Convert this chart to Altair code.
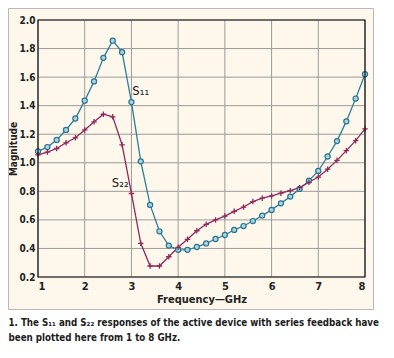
import altair as alt
import pandas as pd

# ---- data ----
freq = [1.0, 1.2, 1.4, 1.6, 1.8, 2.0, 2.2, 2.4, 2.6, 2.8,
        3.0, 3.2, 3.4, 3.6, 3.8, 4.0, 4.2, 4.4, 4.6, 4.8,
        5.0, 5.2, 5.4, 5.6, 5.8, 6.0, 6.2, 6.4, 6.6, 6.8,
        7.0, 7.2, 7.4, 7.6, 7.8, 8.0]
s11 = [1.08, 1.11, 1.16, 1.23, 1.31, 1.435, 1.57, 1.735, 1.855, 1.775,
       1.425, 1.01, 0.705, 0.52, 0.42, 0.39, 0.39, 0.41, 0.435, 0.466,
       0.494, 0.53, 0.557, 0.592, 0.63, 0.67, 0.716, 0.763, 0.817, 0.875,
       0.943, 1.044, 1.152, 1.29, 1.45, 1.62]
s22 = [1.056, 1.075, 1.10, 1.14, 1.175, 1.23, 1.287, 1.34, 1.322, 1.126,
       0.785, 0.436, 0.277, 0.277, 0.342, 0.408, 0.464, 0.524, 0.569, 0.60,
       0.627, 0.66, 0.69, 0.728, 0.752, 0.768, 0.787, 0.805, 0.826, 0.864,
       0.90, 0.955, 1.017, 1.085, 1.155, 1.238]
series_names = ["S11", "S22"]
series_colors = ["#2d7f9b", "#8e2a5c"]

label_text = ["S\u2081\u2081", "S\u2082\u2082"]
label_x = [3.02, 2.58]
label_y = [1.50, 0.86]

x_ticks = [1, 2, 3, 4, 5, 6, 7, 8]
y_ticks = [0.2, 0.4, 0.6, 0.8, 1.0, 1.2, 1.4, 1.6, 1.8, 2.0]

caption = [
    "1. The S\u2081\u2081 and S\u2082\u2082 responses of the active device with series feedback have",
    "been plotted here from 1 to 8 GHz.",
]

FONT = "DejaVu Sans Condensed"
CREAM = "#fdf8eb"

df = pd.concat([
    pd.DataFrame({"freq": freq, "mag": s11, "series": "S11"}),
    pd.DataFrame({"freq": freq, "mag": s22, "series": "S22"}),
])
labels = pd.DataFrame({"freq": label_x, "mag": label_y, "text": label_text})

W, H = 327, 257

xscale = alt.Scale(domain=[1, 8], nice=False, zero=False)
yscale = alt.Scale(domain=[0.2, 2.0], nice=False, zero=False)
xaxis = alt.Axis(values=x_ticks, title="Frequency\u2014GHz", format="d",
                 labelPadding=3, titlePadding=2, labelOverlap=False)
yaxis = alt.Axis(values=y_ticks, title="Magnitude", format=".1f",
                 labelPadding=3, labelOverlap=False, labelFontSize=10,
                 titleX=-24.5, titleY=H / 2, titleAlign="center", titleBaseline="middle",
                 titleAngle=270, titleFontSize=10)
xs = alt.X("freq:Q", scale=xscale, axis=xaxis)
ys = alt.Y("mag:Q", scale=yscale, axis=yaxis)
col = alt.Color("series:N", scale=alt.Scale(domain=series_names, range=series_colors),
                legend=None)

one = pd.DataFrame({"a": [0]})
# white areas outside the cream panel (chart background is cream)
white_bottom = alt.Chart(one).mark_rect(fill="white", strokeWidth=0).encode(
    x=alt.value(-40), x2=alt.value(360), y=alt.value(289.5), y2=alt.value(340))
white_right = alt.Chart(one).mark_rect(fill="white", strokeWidth=0).encode(
    x=alt.value(335.5), x2=alt.value(360), y=alt.value(-20), y2=alt.value(290))
panel_border = alt.Chart(one).mark_rect(
    fill=None, stroke="#b8b8b8", strokeWidth=1
).encode(x=alt.value(-29.5), x2=alt.value(335.5), y=alt.value(-11.5), y2=alt.value(289.5))

vgrid = alt.Chart(pd.DataFrame({"freq": x_ticks})).mark_rule(
    color="#9c9c9c", strokeWidth=1
).encode(x=xs)
hgrid = alt.Chart(pd.DataFrame({"mag": y_ticks})).mark_rule(
    color="#9c9c9c", strokeWidth=1
).encode(y=ys)

frame = alt.Chart(one).mark_rect(
    fill=None, stroke="#111111", strokeWidth=1.2
).encode(x=alt.value(0), x2=alt.value(W), y=alt.value(0), y2=alt.value(H))

base = alt.Chart(df).encode(x=xs, y=ys, color=col)
lines = base.mark_line(strokeWidth=1.3)
circles = alt.Chart(df[df.series == "S11"]).mark_point(
    shape="circle", filled=True, fill="#a9d6e2", stroke="#2a7390", strokeWidth=1.2, size=26, opacity=1
).encode(x=xs, y=ys)
crosses = alt.Chart(df[df.series == "S22"]).mark_point(
    shape="M-1,0L1,0M0,-1L0,1", filled=False, stroke="#8e2a5c", strokeWidth=1.3, size=30, opacity=1
).encode(x=xs, y=ys)

text = alt.Chart(labels).mark_text(
    font=FONT, fontSize=13, align="left", baseline="middle", color="#1a1a1a"
).encode(x=xs, y=ys, text="text:N")

cap1 = alt.Chart(pd.DataFrame({"line": [caption[0]]})).mark_text(
    font=FONT, fontSize=9.7, fontWeight="bold", align="left", baseline="middle", color="#1c1c1c"
).encode(x=alt.value(-29.5), y=alt.value(302.5), text="line:N")
cap2 = alt.Chart(pd.DataFrame({"line": [caption[1]]})).mark_text(
    font=FONT, fontSize=9.7, fontWeight="bold", align="left", baseline="middle", color="#1c1c1c"
).encode(x=alt.value(-29.5), y=alt.value(318), text="line:N")

chart = alt.layer(white_bottom, white_right, panel_border, vgrid, hgrid, lines, circles, crosses,
                  frame, text, cap1, cap2).properties(
    width=W, height=H,
    autosize=alt.AutoSizeParams(type="none"),
    padding={"left": 30, "top": 12, "right": 21, "bottom": 73},
).configure(background=CREAM).configure_view(
    strokeWidth=0
).configure_axis(
    grid=False, labelOverlap=False,
    domain=False, ticks=False,
    labelFont=FONT, labelFontSize=11, labelFontWeight="bold", labelColor="#222222",
    titleFont=FONT, titleFontSize=11, titleFontWeight="bold", titleColor="#222222",
)

chart.save("out.html", embed_options={"renderer": "svg", "actions": False})
